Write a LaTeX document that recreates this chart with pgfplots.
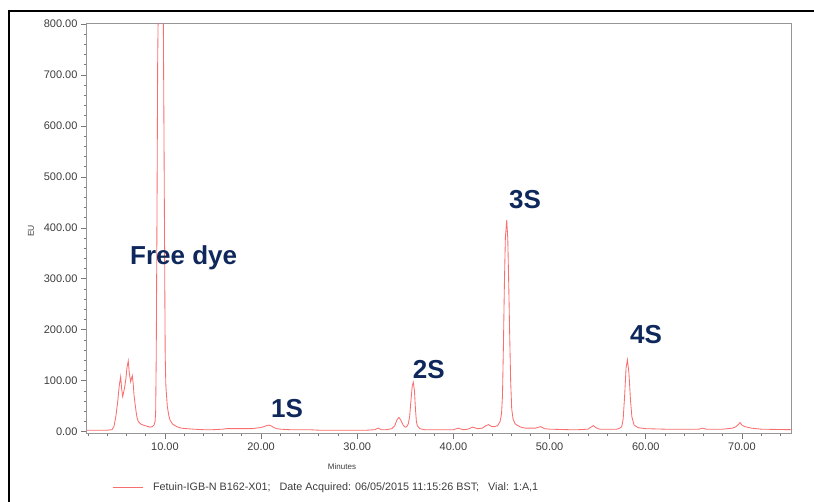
\documentclass[border=0pt]{standalone}
\usepackage{fontspec}
\setmainfont{Liberation Sans}
\usepackage{pgfplots}
\pgfplotsset{compat=1.18}

\definecolor{trace}{RGB}{250,110,110}
\definecolor{navy}{RGB}{14,40,92}
\definecolor{axisgray}{RGB}{150,150,150}
\definecolor{ticktext}{RGB}{60,60,60}

\begin{document}
\begin{tikzpicture}
\path[use as bounding box] (-87pt,-68pt) rectangle (727pt,433pt);
\begin{axis}[
  scale only axis,
  width=704pt, height=409pt,
  xmin=1.9, xmax=75.1,
  ymin=-2.5, ymax=800,
  xtick={10,20,...,70},
  minor xtick={2,4,...,74},
  ytick={0,100,...,800},
  minor ytick={0,20,...,800},
  xtick pos=lower, ytick pos=left,
  tick align=outside,
  major tick length=6pt, minor tick length=3pt,
  every tick/.style={axisgray!80!black, line width=0.7pt},
  axis line style={axisgray, line width=1pt},
  ticklabel style={font=\fontsize{11}{12}\selectfont, text=ticktext},
  /pgf/number format/.cd, fixed, fixed zerofill, precision=2, 1000 sep={}, assume math mode=true,
  /pgfplots/.cd,
  legend style={at={(axis description cs:0.0355,-0.134)}, anchor=west, draw=none, fill=none,
    font=\fontsize{10.8}{12}\selectfont, text=ticktext, inner sep=0pt},
  legend image code/.code={\draw[#1] (0pt,0pt) -- (30pt,0pt);},
  legend cell align=left,
]
\addplot[trace, line width=0.85pt] coordinates {
(1.9,3)(3,3)(4,3)(4.5,4)(4.7,10)(4.9,30)(5.1,60)(5.25,90)(5.40,108)(5.5,85)(5.61,69)
(5.72,78)(5.82,88)(5.95,105)(6.05,125)(6.19,139)(6.3,115)(6.44,98)(6.52,104)(6.61,110)
(6.7,95)(6.8,70)(6.89,56)(7.0,40)(7.1,28)(7.23,20)(7.5,15)(7.75,13)(8.1,11)(8.45,9)
(8.7,10)(8.87,13)(8.98,20)(9.04,40)(9.10,150)(9.17,400)(9.25,730)(9.31,830)(9.55,1000)
(9.83,830)(9.90,600)(9.97,350)(10.03,150)(10.1,90)(10.25,50)(10.4,32)(10.53,23)(10.8,15)
(11.23,10)(11.7,7)(12.27,6)(13,5)(14,4)(15,4)(16,5)(16.43,6)(17,6)(18,6)(19,6)(19.89,8)
(20.3,10)(20.6,12)(20.83,13)(21.1,11)(21.35,8)(21.63,6)(22,5)(23,4)(25,4)(26,3)(28,3)
(30,3)(31,3)(31.8,4)(32.19,7)(32.5,4)(33,4)(33.6,6)(33.9,12)(34.15,24)(34.34,28)(34.55,22)
(34.8,12)(35.0,9)(35.14,10)(35.3,15)(35.45,30)(35.6,65)(35.72,90)(35.83,97)(35.95,80)
(36.05,45)(36.15,20)(36.24,12)(36.5,6)(37,4)(38,4)(39,4)(40,4)(40.5,7)(41,4)(41.5,5)
(42.0,9)(42.5,6)(43,7)(43.3,11)(43.63,14)(44,10)(44.3,10)(44.6,12)(44.85,20)(45.0,35)
(45.1,70)(45.2,170)(45.3,290)(45.4,380)(45.54,415)(45.65,380)(45.75,290)(45.85,190)
(45.95,100)(46.06,45)(46.2,25)(46.4,16)(46.6,13)(47.0,9)(47.5,7)(48.5,7)(49.07,10)(49.5,6)
(50,5)(52,4)(53,4)(54.0,5)(54.3,9)(54.55,12)(54.8,8)(55.2,5)(56,5)(57,5)(57.3,7)(57.5,10)
(57.65,25)(57.8,70)(57.95,125)(58.09,141)(58.25,115)(58.4,65)(58.55,30)(58.78,13)(59.2,8)
(60,6)(62,5)(64,5)(65.5,5)(65.9,7)(66.3,5)(68,5)(69.0,7)(69.4,10)(69.65,15)(69.8,18)
(70.0,13)(70.3,10)(71,7)(72,5)(75.1,4)
};
\addlegendentry{\hspace{8pt}Fetuin-IGB-N B162-X01;\ \ \ Date Acquired: 06/05/2015 11:15:26 BST;\ \ \ Vial: 1:A,1}

\node[anchor=base west, text=navy, font=\fontsize{26}{30}\selectfont\bfseries, inner sep=0pt] at (axis cs:6.37,329) {Free dye};
\node[anchor=base west, text=navy, font=\fontsize{26}{30}\selectfont\bfseries, inner sep=0pt] at (axis cs:21.03,27) {1S};
\node[anchor=base west, text=navy, font=\fontsize{26}{30}\selectfont\bfseries, inner sep=0pt] at (axis cs:35.77,105) {2S};
\node[anchor=base west, text=navy, font=\fontsize{26}{30}\selectfont\bfseries, inner sep=0pt] at (axis cs:45.78,438) {3S};
\node[anchor=base west, text=navy, font=\fontsize{26}{30}\selectfont\bfseries, inner sep=0pt] at (axis cs:58.36,173.5) {4S};
\end{axis}
\node[font=\fontsize{8}{9}\selectfont, text=ticktext] at (255pt,-33.7pt) {Minutes};
\node[font=\fontsize{8.5}{9}\selectfont, text=ticktext, rotate=90] at (-56pt,202pt) {EU};
\draw[black, line width=1.2pt] (-78pt,-70pt) -- (-78pt,422pt) -- (730pt,422pt);
\end{tikzpicture}
\end{document}
